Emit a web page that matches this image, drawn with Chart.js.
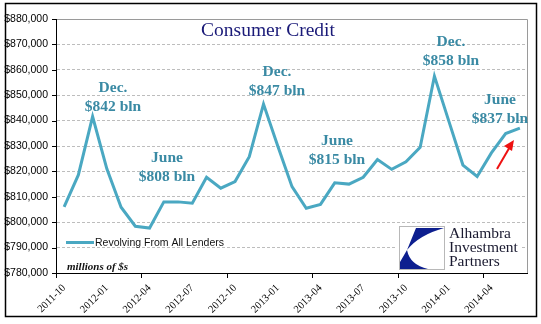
<!DOCTYPE html>
<html>
<head>
<meta charset="utf-8">
<script src="https://cdn.jsdelivr.net/npm/chart.js@4/dist/chart.umd.min.js"></script>
<style>
  html, body { margin: 0; padding: 0; background: #fff; }
  #wrap { width: 541px; height: 324px; }
</style>
</head>
<body>
<div id="wrap"><canvas id="chart" width="541" height="324"></canvas></div>
<script>
// monthly categories 2011-10 .. 2014-06
const months = [
  '2011-10', '2011-11', '2011-12', '2012-01', '2012-02', '2012-03', '2012-04', '2012-05', '2012-06',
  '2012-07', '2012-08', '2012-09', '2012-10', '2012-11', '2012-12', '2013-01', '2013-02', '2013-03',
  '2013-04', '2013-05', '2013-06', '2013-07', '2013-08', '2013-09', '2013-10', '2013-11', '2013-12',
  '2014-01', '2014-02', '2014-03', '2014-04', '2014-05', '2014-06'
];

// revolving consumer credit, millions of $
const revolving = [
  806000, 818600, 841600, 821000, 805900, 798400, 797700, 808000, 808000,
  807500, 817700, 813400, 816000, 825800, 846500, 830000, 814000, 805500,
  807000, 815500, 815000, 817700, 824700, 820800, 823800, 829500, 857500,
  840000, 822500, 818000, 827300, 834900, 837000
];

const yTicks = { min: 780000, max: 880000, step: 10000 };

// callout texts (lines)
const notes = [
  { lines: ['Dec.', '$842 bln'], x: 113, y: 88 },
  { lines: ['June', '$808 bln'], x: 167, y: 158 },
  { lines: ['Dec.', '$847 bln'], x: 277, y: 72 },
  { lines: ['June', '$815 bln'], x: 337, y: 141 },
  { lines: ['Dec.', '$858 bln'], x: 451, y: 42 },
  { lines: ['June', '$837 bln'], x: 500, y: 100 }
];

const LINE = '#4aa8c2';
const NOTE = '#3a8aa4';

const overlay = {
  id: 'overlay',
  beforeDraw(chart) {
    const ctx = chart.ctx;
    ctx.save();
    ctx.fillStyle = '#fff';
    ctx.fillRect(0, 0, chart.width, chart.height);
    ctx.restore();
  },
  afterDraw(chart) {
    const ctx = chart.ctx;
    const a = chart.chartArea;
    const xs = chart.scales.x;
    const ys = chart.scales.y;
    ctx.save();

    // plot area border (grey top/right)
    ctx.strokeStyle = '#9a9a9a';
    ctx.lineWidth = 1;
    ctx.beginPath();
    ctx.moveTo(a.left, a.top + 0.5);
    ctx.lineTo(a.right + 0.5, a.top + 0.5);
    ctx.lineTo(a.right + 0.5, a.bottom);
    ctx.stroke();

    // axes
    ctx.strokeStyle = '#000';
    ctx.beginPath();
    ctx.moveTo(a.left - 0.5, a.top);
    ctx.lineTo(a.left - 0.5, a.bottom + 0.5);
    ctx.lineTo(a.right + 1, a.bottom + 0.5);
    ctx.stroke();

    // y tick marks
    ctx.beginPath();
    ys.ticks.forEach(t => {
      const py = Math.round(ys.getPixelForValue(t.value)) + 0.5;
      ctx.moveTo(a.left - 5, py);
      ctx.lineTo(a.left, py);
    });
    // x tick marks every 6 months at category boundaries
    const step = xs.getPixelForValue(1) - xs.getPixelForValue(0);
    for (let i = 0; i < months.length; i += 6) {
      const px = Math.round(xs.getPixelForValue(i) - step / 2) - 0.5;
      ctx.moveTo(px, a.bottom);
      ctx.lineTo(px, a.bottom + 5);
    }
    ctx.stroke();

    // title
    ctx.fillStyle = '#1a1a78';
    ctx.font = '19.5px "Liberation Serif", "Times New Roman", serif';
    ctx.textAlign = 'center';
    ctx.textBaseline = 'middle';
    ctx.fillText('Consumer Credit', 268, 31);

    // callouts
    ctx.fillStyle = NOTE;
    ctx.font = 'bold 15.5px "Liberation Serif", "Times New Roman", serif';
    notes.forEach(n => {
      n.lines.forEach((s, k) => ctx.fillText(s, n.x, n.y + k * 19));
    });

    // legend
    const ds = chart.data.datasets[0];
    ctx.strokeStyle = ds.borderColor;
    ctx.lineWidth = 3;
    ctx.beginPath();
    ctx.moveTo(66, 242.5);
    ctx.lineTo(94, 242.5);
    ctx.stroke();
    ctx.fillStyle = '#111';
    ctx.font = '10.5px "Liberation Sans", Arial, sans-serif';
    ctx.textAlign = 'left';
    ctx.fillText(ds.label, 95, 243);

    ctx.font = 'bold italic 11px "Liberation Serif", "Times New Roman", serif';
    ctx.fillText('millions of $s', 67, 267);

    // red arrow
    ctx.strokeStyle = '#ee1111';
    ctx.fillStyle = '#ee1111';
    ctx.lineWidth = 2;
    ctx.beginPath();
    ctx.moveTo(497, 169);
    ctx.lineTo(511, 145);
    ctx.stroke();
    ctx.beginPath();
    ctx.moveTo(514, 140);
    ctx.lineTo(504, 146);
    ctx.lineTo(512, 151);
    ctx.closePath();
    ctx.fill();

    // logo
    ctx.fillStyle = '#fff';
    ctx.fillRect(397, 224, 123, 48);
    ctx.strokeStyle = '#b8b8b8';
    ctx.lineWidth = 1;
    ctx.strokeRect(399.5, 226.5, 45, 43);
    ctx.fillStyle = '#0d1f8f';
    ctx.beginPath();
    ctx.moveTo(416, 228);
    ctx.lineTo(444, 228);
    ctx.quadraticCurveTo(419, 235, 407, 250);
    ctx.closePath();
    ctx.fill();
    ctx.beginPath();
    ctx.moveTo(407, 250);
    ctx.quadraticCurveTo(410, 265, 428, 269);
    ctx.lineTo(400, 269);
    ctx.lineTo(400, 262);
    ctx.closePath();
    ctx.fill();
    ctx.fillStyle = '#1a1a30';
    ctx.font = '15.5px "Liberation Serif", "Times New Roman", serif';
    ctx.textBaseline = 'alphabetic';
    ctx.fillText('Alhambra', 449, 238);
    ctx.fillText('Investment', 449, 252);
    ctx.fillText('Partners', 449, 266);

    // outer frame
    ctx.strokeStyle = '#000';
    ctx.lineWidth = 1.5;
    ctx.strokeRect(5.5, 3.5, 531, 313);
    ctx.restore();
  }
};

new Chart(document.getElementById('chart'), {
  type: 'line',
  data: {
    labels: months,
    datasets: [{
      label: 'Revolving From All Lenders',
      data: revolving,
      borderColor: LINE,
      borderWidth: 3,
      pointRadius: 0,
      tension: 0,
      fill: false
    }]
  },
  options: {
    responsive: false,
    animation: false,
    devicePixelRatio: 1,
    layout: { padding: { left: 0, top: 19, right: 14, bottom: 0 } },
    plugins: { legend: { display: false }, tooltip: { enabled: false }, title: { display: false } },
    scales: {
      x: {
        type: 'category',
        offset: true,
        grid: { display: false },
        border: { display: false },
        afterFit(s) { s.height = 51; },
        ticks: {
          autoSkip: false,
          maxRotation: 45,
          minRotation: 45,
          padding: 1,
          color: '#000',
          font: { family: '"Liberation Serif", "Times New Roman", serif', size: 10.5 },
          callback(v, i) { return i % 3 === 0 ? months[i] : ''; }
        }
      },
      y: {
        min: yTicks.min,
        max: yTicks.max,
        afterFit(s) { s.width = 57; },
        grid: { color: '#bdbdbd', lineWidth: 1, borderDash: [3, 2], drawTicks: false },
        border: { display: false, dash: [3, 2] },
        ticks: {
          stepSize: yTicks.step,
          padding: 9,
          color: '#000',
          font: { family: '"Liberation Sans", Arial, sans-serif', size: 10.5 },
          callback(v) { return '$' + v.toLocaleString('en-US'); }
        }
      }
    }
  },
  plugins: [overlay]
});
</script>
</body>
</html>
